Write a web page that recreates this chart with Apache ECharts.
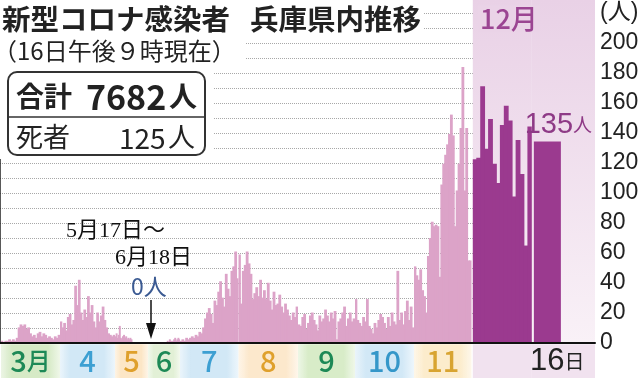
<!DOCTYPE html>
<html>
<head>
<meta charset="utf-8">
<script src="https://cdn.jsdelivr.net/npm/echarts@6/dist/echarts.min.js"></script>
<style>
  html, body { margin: 0; padding: 0; background: #fff; }
  #chart { width: 640px; height: 378px; }
</style>
</head>
<body>
<div id="chart"></div>
<script>
// daily new cases
const mar = [1, 0, 1, 1, 2, 1, 2, 1, 3, 10, 12, 11, 12, 9, 10, 6, 4, 5, 3, 6, 7, 4, 6, 5, 3, 4, 3, 2, 4, 3, 5]
const apr = [14, 10, 13, 8, 17, 19, 12, 15, 38, 25, 42, 20, 15, 22, 17, 31, 20, 25, 14, 10, 20, 14, 18, 24, 15, 10, 6, 5, 4, 5]
const may = [4, 6, 3, 5, 11, 3, 2, 4, 5, 3, 4, 2, 3, 2, 3, 2, 0, 0, 0, 0, 0, 0, 0, 0, 0, 0, 0, 0, 0, 0, 0]
const jun = [0, 0, 0, 0, 0, 0, 0, 0, 0, 0, 0, 0, 0, 0, 0, 0, 0, 0, 1, 0, 2, 1, 0, 1, 2, 3, 1, 2, 3, 2]
const jul = [1, 2, 1, 3, 2, 3, 4, 3, 5, 4, 7, 6, 10, 16, 20, 23, 19, 13, 28, 25, 34, 41, 30, 24, 46, 36, 31, 48, 51, 61, 43]
const aug = [59, 26, 48, 52, 61, 53, 46, 29, 33, 37, 31, 42, 30, 35, 29, 40, 28, 22, 34, 25, 26, 32, 24, 20, 26, 22, 18, 15, 20, 17, 24]
const sep = [12, 11, 17, 19, 9, 13, 18, 20, 15, 12, 8, 18, 14, 16, 22, 18, 14, 20, 16, 21, 2, 14, 16, 20, 24, 11, 16, 20, 14, 16]
const oct = [29, 15, 13, 11, 17, 14, 29, 11, 9, 6, 13, 10, 15, 19, 17, 13, 9, 17, 11, 20, 14, 12, 48, 15, 20, 12, 21, 28, 15, 24, 10]
const nov = [51, 45, 42, 49, 35, 31, 20, 58, 70, 81, 78, 79, 78, 44, 106, 120, 126, 133, 140, 153, 139, 78, 102, 120, 144, 185, 102, 144, 55, 55]
const dec = [123, 124, 172, 130, 150, 120, 107, 146, 159, 149, 98, 136, 113, 65, 145]
const dec16 = [135]

const monthLabels = ['3月', '4', '5', '6', '7', '8', '9', '10', '11', '', '16日']
const yTickLabels = [0, 20, 40, 60, 80, 100, 120, 140, 160, 180, 200]
const unitLabel = '(人)'

// layout of the segments (the paper squeezes May-June and stretches December)
const segLeft = [1, 60, 115, 148, 180, 238.5, 298, 355, 414, 472.8, 531.5]
const segWidth = [59, 55, 33, 32, 58.5, 59.5, 57, 59, 57.5, 59, 63.5]
const bandRGB = [
  [214, 234, 198], [210, 232, 246], [252, 230, 198], [226, 240, 214],
  [210, 232, 246], [252, 232, 204], [216, 236, 200], [210, 232, 246],
  [252, 236, 204], [241, 226, 239], [241, 226, 239]
]
const labelColor = ['#1d8956', '#3c9fd2', '#dfa02c', '#1d8956', '#3c9fd2', '#dfa02c', '#1d8956', '#3597c9', '#d8a431', '#222', '#222']

const PINK = '#dca3c8'
const PURPLE = '#9b3a8f'
const JP = 'Noto Sans CJK JP'

const segData = [mar, apr, may, jun, jul, aug, sep, oct, nov, dec, dec16]
const nSeg = segData.length

function rgba (c, a) {
  return 'rgba(' + c[0] + ',' + c[1] + ',' + c[2] + ',' + a + ')'
}

function bandFill (c, isDec) {
  if (isDec) return rgba(c, 1)
  return new echarts.graphic.LinearGradient(0, 0, 1, 0, [
    { offset: 0, color: rgba(c, 0.45) },
    { offset: 0.18, color: rgba(c, 1) },
    { offset: 0.8, color: rgba(c, 1) },
    { offset: 1, color: rgba(c, 0.4) }
  ])
}

let grid = []
let xAxis = []
let yAxis = []
let series = []

for (let i = 0; i < nSeg; i++) {
  const isDec = i >= 9
  const barColor = isDec ? PURPLE : PINK
  grid.push({ left: segLeft[i], width: segWidth[i], top: -2, height: 381 })
  xAxis.push({
    type: 'category',
    gridIndex: i,
    show: false,
    data: i === 10 ? ['16', ''] : segData[i].map((v, j) => String(j + 1))
  })
  yAxis.push({ type: 'value', gridIndex: i, show: false, min: -24, max: 230 })

  let lbl = monthLabels[i]
  let bandLabel = { show: false }
  if (lbl) {
    if (i === 10) {
      bandLabel = {
        show: true,
        position: 'inside',
        offset: [-6, 0],
        formatter: '{d|16}{k|日}',
        rich: {
          d: { fontFamily: 'Liberation Sans Narrow, Liberation Sans', fontSize: 31, color: '#222' },
          k: { fontFamily: JP, fontSize: 20, color: '#222' }
        }
      }
    } else {
      bandLabel = {
        show: true,
        position: 'inside',
        formatter: lbl.replace(/(\d+)/, '{d|$1}').replace('月', '{k|月}'),
        rich: {
          d: { fontFamily: JP, fontSize: 29, fontWeight: 500, color: labelColor[i] },
          k: { fontFamily: JP, fontSize: 24, fontWeight: 500, color: labelColor[i] }
        }
      }
    }
  }

  let areas = [[
    { yAxis: -1.3, itemStyle: { color: bandFill(bandRGB[i], isDec) }, label: bandLabel },
    { yAxis: -24 }
  ]]
  if (isDec) {
    areas.push([
      {
        yAxis: 0,
        itemStyle: {
          color: new echarts.graphic.LinearGradient(0, 0, 0, 1, [
            { offset: 0, color: '#e9d1e6' },
            { offset: 1, color: '#f9f1f7' }
          ])
        },
        label: { show: false }
      },
      { yAxis: 230 }
    ])
  }

  // background: month band and the December shading
  series.push({
    type: 'line',
    xAxisIndex: i,
    yAxisIndex: i,
    data: [],
    z: 0,
    silent: true,
    markArea: { silent: true, data: areas }
  })

  // bars a little wider than a day so neighbours overlap and leave no seams
  const dayWidth = segWidth[i] / xAxis[i].data.length
  let bar = {
    type: 'bar',
    xAxisIndex: i,
    yAxisIndex: i,
    data: segData[i],
    barWidth: i === 10 ? 27 : dayWidth + 0.9,
    itemStyle: { color: barColor },
    z: 2,
    silent: true
  }
  if (i === 10) {
    bar.label = {
      show: true,
      position: 'top',
      distance: 2,
      offset: [11, 0],
      formatter: '{num|{c}}{unit|人}',
      rich: {
        num: { fontFamily: 'Liberation Sans Narrow, Liberation Sans', fontSize: 29, color: '#8e3a86' },
        unit: { fontFamily: JP, fontSize: 19, color: '#8e3a86' }
      }
    }
  }
  series.push(bar)
}

// the axis frame: baseline, right value axis and dotted grid lines
grid.push({ left: 0, width: 595, top: -2, height: 345, outerBoundsMode: 'none' })
xAxis.push({
  type: 'value',
  gridIndex: nSeg,
  min: 0,
  max: 1,
  z: 3,
  axisLine: { show: true, lineStyle: { color: '#111', width: 2 } },
  axisTick: { show: false },
  axisLabel: { show: false },
  splitLine: { show: false }
})
yAxis.push({
  type: 'value',
  gridIndex: nSeg,
  position: 'right',
  min: 0,
  max: 230,
  interval: 10,
  z: 1,
  axisLine: { show: true, lineStyle: { color: '#222', width: 1.5 } },
  axisTick: { show: true, inside: true, length: 5, lineStyle: { color: '#222', width: 1 } },
  axisLabel: {
    margin: 5,
    fontSize: 23,
    color: '#222',
    fontFamily: 'Liberation Sans, ' + JP,
    formatter: function (v) {
      if (yTickLabels.indexOf(v) >= 0) return String(v)
      if (v === 220) return unitLabel
      return ''
    }
  },
  splitLine: { show: true, lineStyle: { type: 'dotted', color: '#a8a8a8', width: 1 } }
})

const txt = { fill: '#222', verticalAlign: 'middle', fontFamily: JP }

let option = {
  animation: false,
  grid: grid,
  xAxis: xAxis,
  yAxis: yAxis,
  series: series,
  graphic: [
    { type: 'rect', z: 10, silent: true, shape: { x: 0, y: 0, width: 423, height: 36 }, style: { fill: '#fff' } },
    { type: 'rect', z: 10, silent: true, shape: { x: 0, y: 36, width: 246, height: 30 }, style: { fill: '#fff' } },
    { type: 'rect', z: 10, silent: true, shape: { x: 0, y: 66, width: 213, height: 93 }, style: { fill: '#fff' } },
    {
      type: 'text', z: 11, x: 2, y: 19,
      style: {
        text: '{a|新型コロナ感染者}{s| }{a|兵庫県内推移}',
        verticalAlign: 'middle',
        rich: {
          a: { fontSize: 28.5, fontWeight: 'bold', fontFamily: JP, fill: '#222' },
          s: { width: 20, fontSize: 28 }
        }
      }
    },
    { type: 'text', z: 11, x: -7, y: 51, style: Object.assign({}, txt, { text: '（16日午後９時現在）', fontSize: 24 }) },
    {
      type: 'rect', z: 11,
      shape: { x: 8, y: 72, width: 197, height: 83, r: 9 },
      style: { fill: '#fff', stroke: '#333', lineWidth: 2 }
    },
    { type: 'line', z: 12, shape: { x1: 8, y1: 117, x2: 205, y2: 117 }, style: { stroke: '#333', lineWidth: 1.5 } },
    { type: 'text', z: 12, x: 16, y: 96, style: Object.assign({}, txt, { text: '合計', fontSize: 28, fontWeight: 'bold' }) },
    { type: 'text', z: 12, x: 86, y: 97, style: Object.assign({}, txt, { text: '7682', fontSize: 34, fontWeight: 'bold' }) },
    { type: 'text', z: 12, x: 169, y: 96, style: Object.assign({}, txt, { text: '人', fontSize: 28, fontWeight: 'bold' }) },
    { type: 'text', z: 12, x: 16, y: 137, style: Object.assign({}, txt, { text: '死者', fontSize: 27 }) },
    { type: 'text', z: 12, x: 119, y: 138, style: Object.assign({}, txt, { text: '125', fontSize: 28 }) },
    { type: 'text', z: 12, x: 168, y: 137, style: Object.assign({}, txt, { text: '人', fontSize: 27 }) },
    {
      type: 'text', z: 11, x: 478, y: 19,
      style: { text: '12月', fontSize: 27, fontWeight: 500, fontFamily: JP, fill: '#9b4592', verticalAlign: 'middle', backgroundColor: '#ead3e7', padding: [0, 2] }
    },
    { type: 'text', z: 11, x: 66, y: 231, style: { text: '5月17日～', fontSize: 22, fontFamily: 'Liberation Serif, ' + JP, fill: '#111', verticalAlign: 'middle' } },
    { type: 'text', z: 11, x: 115, y: 258, style: { text: '6月18日', fontSize: 22, fontFamily: 'Liberation Serif, ' + JP, fill: '#111', verticalAlign: 'middle' } },
    { type: 'text', z: 11, x: 131, y: 286, style: { text: '0人', fontSize: 23, fontFamily: JP, fill: '#3b5a92', verticalAlign: 'middle' } },
    { type: 'line', z: 11, shape: { x1: 151, y1: 300, x2: 151, y2: 328 }, style: { stroke: '#111', lineWidth: 1.5 } },
    { type: 'polygon', z: 11, shape: { points: [[146, 323], [156, 323], [151, 339]] }, style: { fill: '#111' } }
  ]
}

const chart = echarts.init(document.getElementById('chart'))
chart.setOption(option)
</script>
</body>
</html>
